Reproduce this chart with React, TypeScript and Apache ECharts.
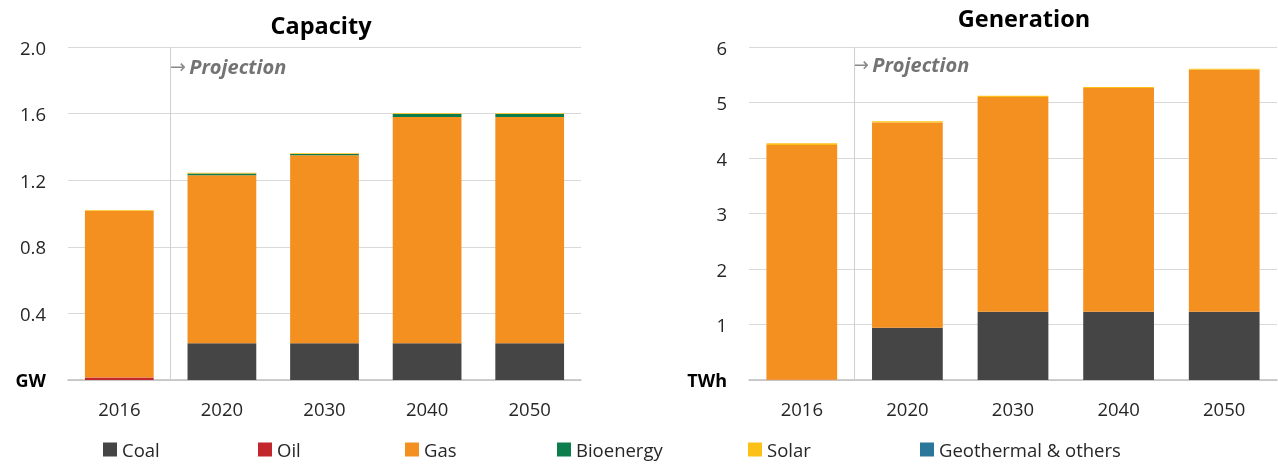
import React, { useEffect, useRef } from "react";
import * as echarts from "echarts";

const categories = ["2016", "2020", "2030", "2040", "2050"];
const seriesNames = ["Coal", "Oil", "Gas", "Bioenergy", "Solar", "Geothermal & others"];
const seriesColors = ["#454545", "#c1272d", "#f39020", "#0e7d4e", "#fcc116", "#2b7799"];

// Capacity (GW)
const capCoal = [0, 0.22, 0.22, 0.22, 0.22];
const capOil = [0.015, 0, 0, 0, 0];
const capGas = [1.0, 1.01, 1.13, 1.36, 1.36];
const capBio = [0, 0.01, 0.007, 0.018, 0.018];
const capSolar = [0.005, 0.005, 0.005, 0.004, 0.004];
const capGeo = [0, 0, 0, 0, 0];

// Generation (TWh)
const genCoal = [0, 0.94, 1.23, 1.23, 1.23];
const genOil = [0.005, 0, 0, 0, 0];
const genGas = [4.23, 3.7, 3.87, 4.03, 4.36];
const genBio = [0, 0, 0, 0, 0];
const genSolar = [0.03, 0.02, 0.02, 0.02, 0.02];
const genGeo = [0, 0, 0, 0, 0];

const capTicks = { min: 0, max: 2, interval: 0.4 };
const genTicks = { min: 0, max: 6, interval: 1 };

// projection starts after the first category (boundary index on a 0..5 band scale)
const projectionBoundary = 1;

const legendLefts = [103, 258, 405, 557, 748, 920];

const FONT = "'Open Sans', 'Noto Sans', sans-serif";

export default function App() {
  const ref = useRef<HTMLDivElement>(null);
  useEffect(() => {
    if (!ref.current) return;
    const chart = echarts.init(ref.current, null, { renderer: "svg" });
    const capData = [capCoal, capOil, capGas, capBio, capSolar, capGeo];
    const genData = [genCoal, genOil, genGas, genBio, genSolar, genGeo];
    const mkSeries = (data: number[][], idx: number, stack: string) =>
      data.map((d, i) => ({
        name: seriesNames[i],
        type: "bar",
        stack,
        xAxisIndex: idx,
        yAxisIndex: idx,
        barWidth: "67%",
        data: d,
        itemStyle: { color: seriesColors[i] },
        emphasis: { disabled: true },
      }));
    const xAxisBase = (gridIndex: number) => ({
      type: "category",
      gridIndex,
      data: categories,
      axisLine: { lineStyle: { color: "#bfbfbf", width: 1.5 } },
      axisTick: { show: false },
      axisLabel: { color: "#262626", fontSize: 18.5, fontFamily: FONT, margin: 19 },
      splitLine: { show: false },
    });
    const bandAxis = (gridIndex: number) => ({
      type: "value",
      gridIndex,
      min: 0,
      max: categories.length,
      show: false,
      splitLine: { show: false },
    });
    const yAxisBase = (gridIndex: number, t: any, unit: string, dec: number) => ({
      type: "value",
      gridIndex,
      min: t.min,
      max: t.max,
      interval: t.interval,
      axisLine: { show: false },
      axisTick: { show: false },
      splitLine: { lineStyle: { color: "#d9d9d9", width: 1 } },
      axisLabel: {
        color: "#262626",
        fontSize: 18.5,
        fontFamily: FONT,
        margin: 22,
        formatter: (v: number) => (v === 0 ? `{u|${unit}}` : v.toFixed(dec)),
        rich: { u: { fontWeight: "bold", fontSize: 18, fontFamily: FONT, color: "#000" } },
      },
    });
    const projSeries = (xIdx: number, yIdx: number) => ({
      type: "line",
      xAxisIndex: xIdx,
      yAxisIndex: yIdx,
      data: [],
      silent: true,
      markLine: {
        silent: true,
        symbol: ["none", "none"],
        label: { show: false },
        lineStyle: { color: "#cfcfcf", width: 1, type: "solid" },
        data: [{ xAxis: projectionBoundary }],
      },
    });
    const projText = (left: number, top: number) => ({
      type: "text",
      left,
      top,
      style: {
        text: "{a|→} {b|Projection}",
        rich: {
          a: { fontSize: 19, fill: "#8a8a8a", fontFamily: "'DejaVu Sans', sans-serif" },
          b: {
            fontSize: 20,
            fontWeight: "bold",
            fontStyle: "italic",
            fill: "#737373",
            fontFamily: FONT,
          },
        },
      },
    });
    chart.setOption({
      animation: false,
      textStyle: { fontFamily: FONT },
      title: [
        {
          text: "Capacity",
          left: 316,
          top: 8,
          textAlign: "center",
          textStyle: { fontSize: 23.5, fontWeight: "bold", color: "#000", fontFamily: FONT },
        },
        {
          text: "Generation",
          left: 1019,
          top: 1,
          textAlign: "center",
          textStyle: { fontSize: 23.5, fontWeight: "bold", color: "#000", fontFamily: FONT },
        },
      ],
      legend: seriesNames.map((n, i) => ({
        data: [n],
        left: legendLefts[i],
        top: 440,
        padding: 0,
        icon: "rect",
        itemWidth: 14,
        itemHeight: 14,
        itemGap: 6,
        selectedMode: false,
        textStyle: { fontSize: 18.5, color: "#262626", fontFamily: FONT },
      })),
      grid: [
        { left: 68, right: 697, top: 47, bottom: 84 },
        { left: 749, right: 1, top: 47, bottom: 84 },
      ],
      xAxis: [xAxisBase(0), xAxisBase(1), bandAxis(0), bandAxis(1)],
      yAxis: [yAxisBase(0, capTicks, "GW", 1), yAxisBase(1, genTicks, "TWh", 0)],
      graphic: [projText(170, 56), projText(853, 54)],
      series: [
        ...mkSeries(capData, 0, "cap"),
        ...mkSeries(genData, 1, "gen"),
        projSeries(2, 0),
        projSeries(3, 1),
      ],
    });
    return () => chart.dispose();
  }, []);
  return (
    <div
      ref={ref}
      style={{ position: "fixed", left: 0, top: 0, width: 1278, height: 464 }}
    />
  );
}
